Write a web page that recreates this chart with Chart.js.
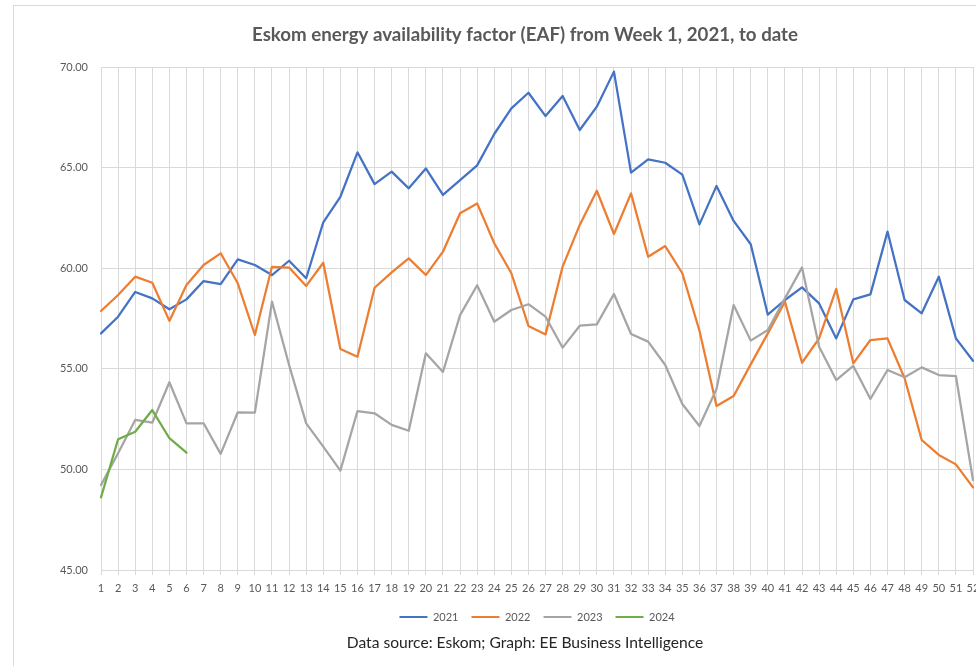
<!DOCTYPE html>
<html>
<head>
<meta charset="utf-8">
<script src="https://cdn.jsdelivr.net/npm/chart.js@4.4.1/dist/chart.umd.min.js"></script>
<style>
  html, body { margin: 0; padding: 0; background: #ffffff; overflow: hidden; width: 976px; height: 666px; }
  #frame { position: absolute; left: 13px; top: 5px; width: 1100px; height: 720px; border: 1px solid #d9d9d9; background: #ffffff; }
  #c { position: absolute; left: 0; top: 0; }
</style>
</head>
<body>
<div id="frame"></div>
<canvas id="c" width="1050" height="666"></canvas>
<script>
// ---------- data ----------
const weeks = ["1","2","3","4","5","6","7","8","9","10","11","12","13","14","15","16","17","18","19","20",
  "21","22","23","24","25","26","27","28","29","30","31","32","33","34","35","36","37","38","39","40",
  "41","42","43","44","45","46","47","48","49","50","51","52"];

const eaf2021 = [56.76, 57.59, 58.82, 58.50, 57.96, 58.45, 59.36, 59.21, 60.44, 60.16,
  59.66, 60.37, 59.50, 62.28, 63.55, 65.76, 64.18, 64.80, 63.97, 64.96,
  63.64, 64.38, 65.11, 66.67, 67.94, 68.72, 67.56, 68.56, 66.87, 68.03,
  69.77, 64.75, 65.41, 65.24, 64.65, 62.18, 64.09, 62.35, 61.19, 57.69,
  58.42, 59.05, 58.25, 56.51, 58.45, 58.70, 61.82, 58.42, 57.76, 59.58,
  56.51, 55.40];

const eaf2022 = [57.87, 58.67, 59.58, 59.28, 57.38, 59.16, 60.16, 60.74, 59.25, 56.68,
  60.07, 60.03, 59.12, 60.27, 55.98, 55.60, 59.03, 59.79, 60.49, 59.66,
  60.82, 62.73, 63.22, 61.24, 59.75, 57.13, 56.71, 60.08, 62.15, 63.85,
  61.70, 63.72, 60.57, 61.10, 59.75, 56.90, 53.15, 53.65, 55.22, 56.76,
  58.34, 55.30, 56.51, 58.97, 55.27, 56.43, 56.51, 54.53, 51.46, 50.72,
  50.25, 49.11];

const eaf2023 = [49.22, 50.80, 52.46, 52.32, 54.33, 52.29, 52.29, 50.77, 52.84, 52.82,
  58.34, 55.19, 52.29, 51.13, 49.94, 52.90, 52.79, 52.21, 51.92, 55.77,
  54.84, 57.67, 59.15, 57.34, 57.92, 58.21, 57.59, 56.05, 57.14, 57.21,
  58.72, 56.73, 56.35, 55.19, 53.25, 52.16, 54.00, 58.17, 56.40, 56.93,
  58.50, 60.04, 56.10, 54.44, 55.14, 53.50, 54.94, 54.58, 55.07, 54.69,
  54.64, 49.47];

const eaf2024 = [48.61, 51.50, 51.87, 52.95, 51.55, 50.83];

const seriesNames = ["2021", "2022", "2023", "2024"];
const yTickValues = [45, 50, 55, 60, 65, 70];

const titleText = "Eskom energy availability factor (EAF) from Week 1, 2021, to date";
const sourceText = "Data source: Eskom; Graph: EE Business Intelligence";

// ---------- styling ----------
const FONT = "Lato, 'Open Sans', 'Liberation Sans', sans-serif";
const colors = ["#4472C4", "#ED7D31", "#A5A5A5", "#70AD47"];
const gridColor = "#d9d9d9";
const textColor = "#595959";

function fitSize(text, target, weight) {
  const ctx = document.createElement('canvas').getContext('2d');
  ctx.font = weight + " 100px " + FONT;
  return 100 * target / ctx.measureText(text).width;
}

const titleSize = fitSize(titleText, 546, "bold");
const titleLH = titleSize * 1.2;
const titlePadTop = 35 - titleLH / 2;
const titlePadBottom = 67 - titlePadTop - titleLH;

const srcSize = fitSize(sourceText, 357, "normal");
const srcLH = srcSize * 1.2;

const xAxisHeight = 28.5;
const legendPad = 13;
const legendFont = 11;
const legendHeight = legendFont + legendPad + 10;
const legendBottom = 570 + xAxisHeight + legendHeight;
const srcPadTop = Math.max(0, 643 - legendBottom - srcLH / 2);
const srcPadBottom = 666 - legendBottom - srcPadTop - srcLH;

const allSeries = [eaf2021, eaf2022, eaf2023, eaf2024];

new Chart(document.getElementById('c'), {
  type: 'line',
  data: {
    labels: weeks,
    datasets: allSeries.map((vals, i) => ({
      label: seriesNames[i],
      data: vals,
      yAxisID: 'y',
      borderColor: colors[i],
      backgroundColor: colors[i],
      borderWidth: 2.25,
      pointRadius: 0,
      pointHoverRadius: 0,
      tension: 0,
      fill: false,
      borderJoinStyle: 'round',
      borderCapStyle: 'round',
      order: allSeries.length - i
    }))
  },
  options: {
    responsive: false,
    animation: false,
    devicePixelRatio: 1,
    layout: { padding: { left: 0, right: 0, top: 0, bottom: 0 } },
    plugins: {
      title: {
        display: true,
        text: titleText,
        color: textColor,
        font: { family: FONT, size: titleSize, weight: 'bold' },
        padding: { top: titlePadTop, bottom: titlePadBottom }
      },
      subtitle: {
        display: true,
        position: 'bottom',
        text: sourceText,
        color: '#262626',
        font: { family: FONT, size: srcSize, weight: 'normal' },
        padding: { top: srcPadTop, bottom: srcPadBottom }
      },
      legend: {
        display: true,
        position: 'bottom',
        fullSize: false,
        labels: {
          color: textColor,
          font: { family: FONT, size: legendFont },
          boxWidth: 28,
          boxHeight: 2,
          padding: legendPad,
          generateLabels: (chart) => chart.data.datasets.map((ds, i) => ({
            text: ds.label,
            fillStyle: ds.borderColor,
            strokeStyle: ds.borderColor,
            lineWidth: 0,
            hidden: false,
            datasetIndex: i,
            fontColor: textColor
          }))
        }
      },
      tooltip: { enabled: false }
    },
    scales: {
      x: {
        type: 'category',
        offset: false,
        grid: { color: gridColor, lineWidth: 1, drawTicks: true, tickLength: 5, tickColor: gridColor },
        border: { display: true, color: gridColor, width: 1 },
        ticks: {
          color: textColor,
          font: { family: FONT, size: 11 },
          autoSkip: false,
          maxRotation: 0,
          minRotation: 0,
          padding: 6.4
        },
        afterFit: (s) => { s.height = xAxisHeight; }
      },
      y: {
        position: 'left',
        min: 45,
        max: 70,
        grid: { color: gridColor, lineWidth: 1, drawTicks: false },
        border: { display: false },
        ticks: {
          color: textColor,
          font: { family: FONT, size: 11 },
          padding: 13,
          callback: (v) => Number(v).toFixed(2)
        },
        afterBuildTicks: (s) => { s.ticks = yTickValues.map(v => ({ value: v })); },
        afterFit: (s) => { s.width = 101; }
      },
      yR: {
        position: 'right',
        display: true,
        grid: { display: false, drawTicks: false },
        border: { display: false },
        ticks: { display: false },
        afterFit: (s) => { s.width = 77; }
      }
    }
  }
});
</script>
</body>
</html>
